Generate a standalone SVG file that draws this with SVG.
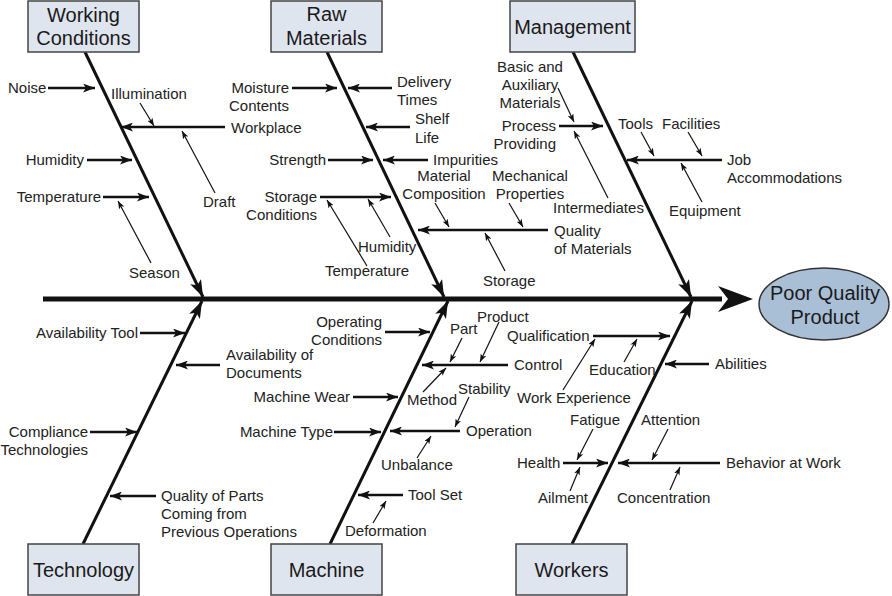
<svg xmlns="http://www.w3.org/2000/svg" width="892" height="596" viewBox="0 0 892 596">
<style>
text{font-family:"Liberation Sans",Arial,sans-serif;font-size:15px;fill:#222}
.bt{font-size:20px;text-anchor:middle;fill:#1a1a1a}
.e{text-anchor:end}
.m{text-anchor:middle}
.box{fill:#dfe5ee;stroke:#444;stroke-width:1.5}
.bone{stroke:#111;stroke-width:3;fill:none;marker-end:url(#big)}
.br{stroke:#111;stroke-width:2.5;fill:none;marker-end:url(#mid)}
.th{stroke:#111;stroke-width:1.2;fill:none;marker-end:url(#sm)}
</style>
<defs>
<marker id="big" markerUnits="userSpaceOnUse" markerWidth="18" markerHeight="12" refX="17" refY="6" orient="auto"><path d="M0,0 L17,6 L0,12 L4,6 z" fill="#111"/></marker>
<marker id="mid" markerUnits="userSpaceOnUse" markerWidth="12" markerHeight="9" refX="12" refY="4.5" orient="auto"><path d="M0,0 L12,4.5 L0,9 L3,4.5 z" fill="#111"/></marker>
<marker id="sm" markerUnits="userSpaceOnUse" markerWidth="8" markerHeight="6" refX="8" refY="3" orient="auto"><path d="M0,0 L8,3 L0,6 L2,3 z" fill="#111"/></marker>
</defs>
<rect width="892" height="596" fill="#fff"/>

<g id="connectors">
<line x1="43" y1="299" x2="722" y2="299" stroke="#111" stroke-width="5"/>
<polygon points="718,286 753,299 718,312 728,299" fill="#111"/>
<path class="bone" d="M85,52 L203,297"/>
<path class="bone" d="M327,52 L444,297"/>
<path class="bone" d="M573,52 L691,297"/>
<path class="bone" d="M83,544 L202,301"/>
<path class="bone" d="M330,544 L448,301"/>
<path class="bone" d="M572,544 L692,301"/>

<path class="br" d="M48,88 L95,88"/>
<path class="br" d="M225,127 L121,127"/>
<path class="br" d="M87,160 L132,160"/>
<path class="br" d="M103,197 L149,197"/>
<path class="br" d="M292,88 L337,88"/>
<path class="br" d="M392,88 L348,88"/>
<path class="br" d="M410,127 L366,127"/>
<path class="br" d="M328,160 L373,160"/>
<path class="br" d="M428,160 L383,160"/>
<path class="br" d="M320,197 L391,197"/>
<path class="br" d="M548,230 L418,230"/>
<path class="br" d="M559,126 L603,126"/>
<path class="br" d="M722,160 L627,160"/>
<path class="br" d="M140,333 L185,333"/>
<path class="br" d="M220,365 L176,365"/>
<path class="br" d="M90,432 L137,432"/>
<path class="br" d="M156,496 L110,496"/>
<path class="br" d="M385,332 L430,332"/>
<path class="br" d="M508,365 L422,365"/>
<path class="br" d="M353,397 L398,397"/>
<path class="br" d="M334,432 L381,432"/>
<path class="br" d="M460,431 L390,431"/>
<path class="br" d="M403,495 L358,495"/>
<path class="br" d="M593,336 L670,336"/>
<path class="br" d="M709,364 L665,364"/>
<path class="br" d="M563,463 L608,463"/>
<path class="br" d="M720,463 L618,463"/>

<path class="th" d="M140,103 L154,126"/>
<path class="th" d="M215,193 L182,131"/>
<path class="th" d="M151,263 L118,201"/>
<path class="th" d="M390,237 L368,199"/>
<path class="th" d="M367,266 L327,200"/>
<path class="th" d="M435,203 L449,227"/>
<path class="th" d="M509,203 L523,227"/>
<path class="th" d="M505,271 L485,233"/>
<path class="th" d="M558,88 L574,122"/>
<path class="th" d="M608,198 L574,131"/>
<path class="th" d="M641,132 L654,156"/>
<path class="th" d="M688,132 L702,156"/>
<path class="th" d="M702,202 L681,163"/>
<path class="th" d="M462,338 L450,362"/>
<path class="th" d="M499,322 L480,362"/>
<path class="th" d="M423,392 L446,368"/>
<path class="th" d="M469,397 L455,427"/>
<path class="th" d="M417,458 L431,436"/>
<path class="th" d="M373,523 L386,501"/>
<path class="th" d="M563,390 L595,339"/>
<path class="th" d="M624,362 L637,339"/>
<path class="th" d="M593,429 L577,460"/>
<path class="th" d="M570,491 L580,467"/>
<path class="th" d="M668,429 L652,460"/>
<path class="th" d="M670,490 L680,467"/>
</g>

<g id="working-conditions">
<rect class="box" x="28" y="1" width="111" height="51"/>
<text class="bt" x="83.5" y="22">Working</text>
<text class="bt" x="83.5" y="45">Conditions</text>
</g>
<g id="raw-materials">
<rect class="box" x="271" y="1" width="111" height="51"/>
<text class="bt" x="326.5" y="21">Raw</text>
<text class="bt" x="326.5" y="45">Materials</text>
</g>
<g id="management">
<rect class="box" x="510" y="1" width="125" height="51"/>
<text class="bt" x="572.5" y="34">Management</text>
</g>
<g id="technology">
<rect class="box" x="28" y="544" width="111" height="51"/>
<text class="bt" x="83.5" y="577">Technology</text>
</g>
<g id="machine">
<rect class="box" x="271" y="544" width="111" height="51"/>
<text class="bt" x="326.5" y="577">Machine</text>
</g>
<g id="workers">
<rect class="box" x="516" y="544" width="111" height="51"/>
<text class="bt" x="571.5" y="577">Workers</text>
</g>
<g id="poor-quality-product">
<ellipse cx="824" cy="304" rx="65" ry="36" fill="#a9bfd6" stroke="#333" stroke-width="1.5"/>
<text class="bt" x="825" y="300">Poor Quality</text>
<text class="bt" x="825" y="324">Product</text>
</g>

<g id="labels-working-conditions">
<text x="8" y="93">Noise</text>
<text x="111" y="99">Illumination</text>
<text x="231" y="133">Workplace</text>
<text class="e" x="84" y="165">Humidity</text>
<text class="e" x="101" y="202">Temperature</text>
<text x="203" y="207">Draft</text>
<text x="129" y="278">Season</text>
</g>
<g id="labels-raw-materials">
<text class="e" x="289" y="93">Moisture</text>
<text class="e" x="289" y="111">Contents</text>
<text x="397" y="87">Delivery</text>
<text x="397" y="105">Times</text>
<text x="415" y="124">Shelf</text>
<text x="415" y="143">Life</text>
<text class="e" x="326" y="165">Strength</text>
<text x="433" y="165">Impurities</text>
<text class="e" x="317" y="202">Storage</text>
<text class="e" x="317" y="220">Conditions</text>
<text x="358" y="252">Humidity</text>
<text x="325" y="276">Temperature</text>
<text class="m" x="444" y="181">Material</text>
<text class="m" x="444" y="199">Composition</text>
<text class="m" x="530" y="181">Mechanical</text>
<text class="m" x="530" y="199">Properties</text>
<text x="554" y="236">Quality</text>
<text x="554" y="254">of Materials</text>
<text x="483" y="286">Storage</text>
</g>
<g id="labels-management">
<text class="m" x="530" y="72">Basic and</text>
<text class="m" x="530" y="90">Auxiliary</text>
<text class="m" x="530" y="108">Materials</text>
<text class="e" x="556" y="131">Process</text>
<text class="e" x="556" y="149">Providing</text>
<text x="553" y="213">Intermediates</text>
<text x="618" y="129">Tools</text>
<text x="662" y="129">Facilities</text>
<text x="727" y="165">Job</text>
<text x="727" y="183">Accommodations</text>
<text x="669" y="216">Equipment</text>
</g>
<g id="labels-technology">
<text x="36" y="338">Availability Tool</text>
<text x="226" y="360">Availability of</text>
<text x="226" y="378">Documents</text>
<text class="e" x="88" y="437">Compliance</text>
<text class="e" x="88" y="455">Technologies</text>
<text x="161" y="501">Quality of Parts</text>
<text x="161" y="519">Coming from</text>
<text x="161" y="537">Previous Operations</text>
</g>
<g id="labels-machine">
<text class="e" x="382" y="327">Operating</text>
<text class="e" x="382" y="345">Conditions</text>
<text x="450" y="334">Part</text>
<text x="477" y="322">Product</text>
<text x="514" y="370">Control</text>
<text x="407" y="405">Method</text>
<text x="458" y="394">Stability</text>
<text class="e" x="350" y="402">Machine Wear</text>
<text class="e" x="333" y="437">Machine Type</text>
<text x="466" y="436">Operation</text>
<text x="381" y="470">Unbalance</text>
<text x="408" y="500">Tool Set</text>
<text x="345" y="536">Deformation</text>
</g>
<g id="labels-workers">
<text x="507" y="341">Qualification</text>
<text x="517" y="403">Work Experience</text>
<text x="589" y="375">Education</text>
<text x="715" y="369">Abilities</text>
<text x="570" y="425">Fatigue</text>
<text x="517" y="468">Health</text>
<text x="538" y="503">Ailment</text>
<text x="641" y="425">Attention</text>
<text x="726" y="468">Behavior at Work</text>
<text x="617" y="503">Concentration</text>
</g>
</svg>
